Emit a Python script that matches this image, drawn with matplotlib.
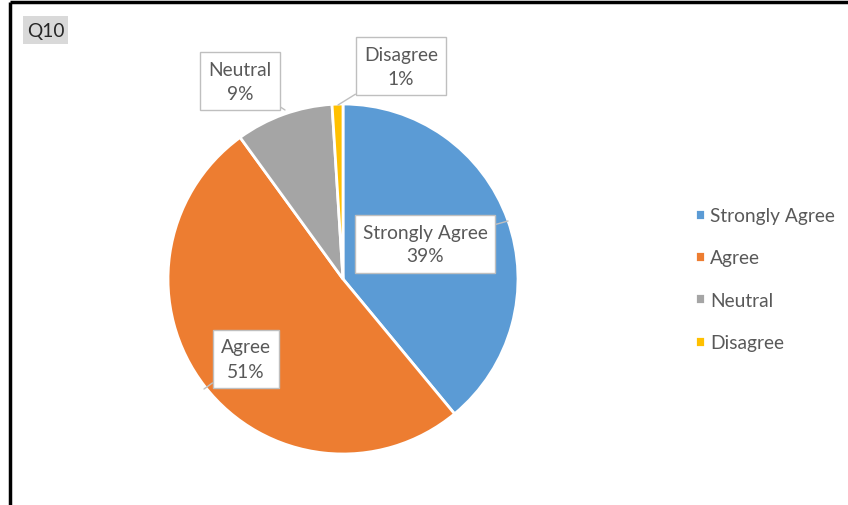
import matplotlib
matplotlib.use("Agg")
import matplotlib.pyplot as plt
from matplotlib.patches import Rectangle

categories = ["Strongly Agree", "Agree", "Neutral", "Disagree"]
shares = [39, 51, 9, 1]
colors = ["#5B9BD5", "#ED7D31", "#A5A5A5", "#FFC000"]
title = "Q10"

W, H = 848, 506
plt.rcParams["font.family"] = ["Lato", "DejaVu Sans"]
txt_color = "#595959"
fs = 13.8

fig = plt.figure(figsize=(W / 100, H / 100), dpi=100)
ax = fig.add_axes([0, 0, 1, 1])

cx, cy, r = 343, H - 280, 175
wedges, _ = ax.pie(shares, colors=colors, startangle=90, counterclock=False,
                   center=(cx, cy), radius=r, frame=True,
                   wedgeprops=dict(edgecolor="white", linewidth=2))
ax.set_xlim(0, W)
ax.set_ylim(0, H)
ax.set_aspect("equal")
ax.axis("off")

# data labels: (text centre, leader end)
label_pos = {
    "Strongly Agree": ((425, H - 245), (508, H - 222)),
    "Agree": ((246, H - 360), (204, H - 390)),
    "Neutral": ((240, H - 82), (285, H - 111)),
    "Disagree": ((401, H - 67), (338, H - 106)),
}
box = dict(boxstyle="square,pad=0.42", fc="white", ec="#BFBFBF", lw=1)
for name, val in zip(categories, shares):
    (tx, ty), (px, py) = label_pos[name]
    ax.annotate(f"{name}\n{val}%", xy=(px, py), xytext=(tx, ty),
                ha="center", va="center", fontsize=fs, color=txt_color,
                linespacing=1.5, bbox=box,
                arrowprops=dict(arrowstyle="-", color="#BFBFBF", lw=1,
                                shrinkA=0, shrinkB=0))

# title tag
ax.add_patch(Rectangle((23, H - 45), 45, 28, fc="#D9D9D9", ec="none"))
ax.text(45.5, H - 31, title, ha="center", va="center", fontsize=fs, color="#262626")

# outer frame (top and left edges)
ax.plot([10, W], [H - 3, H - 3], color="black", lw=2.5, solid_capstyle="butt")
ax.plot([10, 10], [H - 3, 0], color="black", lw=2.5, solid_capstyle="butt")

leg = ax.legend(wedges, categories, loc="upper left",
                bbox_to_anchor=(695 / W, 1 - 208 / H), frameon=False,
                borderpad=0, borderaxespad=0,
                fontsize=fs, handlelength=0.5, handleheight=0.5,
                handletextpad=0.3, labelspacing=1.32)
for t in leg.get_texts():
    t.set_color(txt_color)

fig.savefig("out.png", dpi=100)
